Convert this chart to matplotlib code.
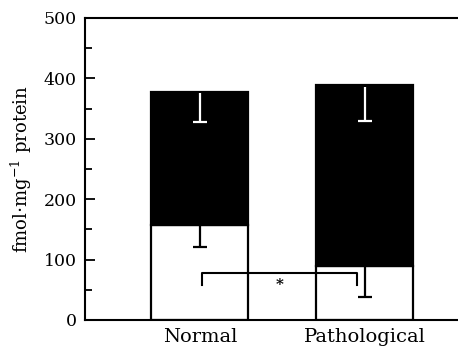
import matplotlib
matplotlib.use("Agg")
import matplotlib.pyplot as plt
from matplotlib.ticker import MultipleLocator

plt.rcParams['font.family'] = ['DejaVu Serif']
plt.rcParams['mathtext.fontset'] = 'dejavuserif'

groups = ["Normal", "Pathological"]
white_vals = [158, 90]
white_err = [37, 52]
total_vals = [378, 389]
total_err = [51, 60]

# significance bracket between the white parts
bracket_x = [0.01, 0.95]
bracket_y = 77
bracket_drop = 19
star_x = 0.485
star_y = 58

fig = plt.figure(figsize=(4.58, 3.48), dpi=100)
ax = fig.add_axes([0.1856, 0.0805, 0.8144, 0.868])

pos = [0, 1]
width = 0.588
cap = 0.045
black_vals = [t - w for t, w in zip(total_vals, white_vals)]

ax.bar(pos, white_vals, width, color='white', edgecolor='black', linewidth=1.6, zorder=2)
ax.bar(pos, black_vals, width, bottom=white_vals, color='black', edgecolor='black',
       linewidth=1.6, zorder=2)

# downward-only error bars: black on the white part, white inside the black part
for x, v, e in zip(pos, white_vals, white_err):
    ax.vlines(x, v - e, v, color='black', linewidth=1.6, zorder=3)
    ax.hlines(v - e, x - cap, x + cap, color='black', linewidth=1.6, zorder=3)
for x, v, e in zip(pos, total_vals, total_err):
    ax.vlines(x, v - e, v - 3, color='white', linewidth=1.6, zorder=3)
    ax.hlines(v - e, x - cap, x + cap, color='white', linewidth=1.6, zorder=3)

ax.plot([bracket_x[0], bracket_x[0], bracket_x[1], bracket_x[1]],
        [bracket_y - bracket_drop, bracket_y, bracket_y, bracket_y - bracket_drop],
        color='black', linewidth=1.5, zorder=4)
ax.text(star_x, star_y, '*', ha='center', va='center', fontsize=11, fontweight='bold')

ax.set_xlim(-0.697, 1.564)
ax.set_ylim(0, 500)
ax.set_xticks(pos)
ax.set_xticklabels(groups, fontsize=14)
ax.tick_params(axis='x', length=0, pad=6)
ax.yaxis.set_major_locator(MultipleLocator(100))
ax.yaxis.set_minor_locator(MultipleLocator(50))
ax.tick_params(axis='y', which='major', direction='in', length=7, width=1.3, labelsize=12.5, pad=6)
ax.tick_params(axis='y', which='minor', direction='in', length=5, width=1.3)
ax.set_ylabel(r'fmol$\cdot$mg$^{-1}$ protein', fontsize=13, labelpad=7)

ax.spines['right'].set_visible(False)
for s in ['left', 'bottom', 'top']:
    ax.spines[s].set_linewidth(1.5)

fig.savefig('out.png', dpi=100)
